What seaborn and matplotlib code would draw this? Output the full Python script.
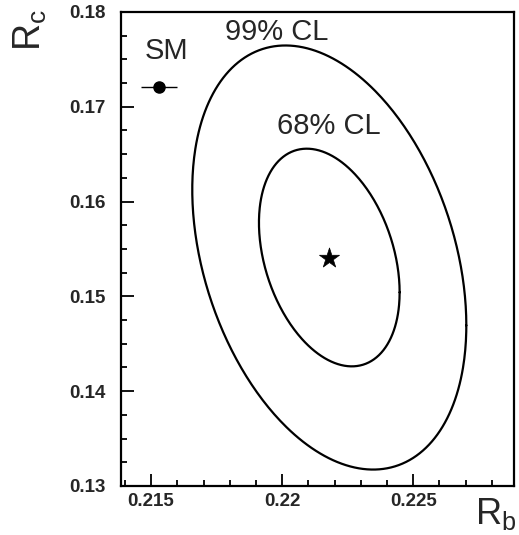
import numpy as np
import pandas as pd
import seaborn as sns
import matplotlib.pyplot as plt
from matplotlib.ticker import MultipleLocator

# Fit result in the (Rb, Rc) plane
fit_rb = 0.2218
fit_rc = 0.1541
sigma_rb = 0.00177
sigma_rc = 0.00757
rho = -0.32
cl_labels = ["68% CL", "99% CL"]
cl_delta_chi2 = [2.30, 8.73]

# Standard Model prediction
sm_rb = 0.2153
sm_rc = 0.1721
sm_rb_err = 0.0007

x_ticks = [0.215, 0.22, 0.225]
x_tick_labels = ["0.215", "0.22", "0.225"]
y_ticks = [0.13, 0.14, 0.15, 0.16, 0.17, 0.18]
y_tick_labels = ["0.13", "0.14", "0.15", "0.16", "0.17", "0.18"]

sns.set_theme(style="white")
plt.rcParams["font.family"] = ["Liberation Sans", "DejaVu Sans"]

fig = plt.figure(figsize=(5.19, 5.35), dpi=100)
ax = fig.add_axes([0.2331, 0.0916, 0.9904 - 0.2331, 0.9776 - 0.0916])

# Confidence-level contours of the 2D Gaussian fit
t = np.linspace(0, 2 * np.pi, 400)
frames = []
for label, d2 in zip(cl_labels, cl_delta_chi2):
    k = np.sqrt(d2)
    frames.append(pd.DataFrame({
        "Rb": fit_rb + k * sigma_rb * np.cos(t),
        "Rc": fit_rc + k * sigma_rc * (rho * np.cos(t) + np.sqrt(1 - rho**2) * np.sin(t)),
        "cl": label,
    }))
contours = pd.concat(frames, ignore_index=True)
sns.lineplot(data=contours, x="Rb", y="Rc", units="cl", estimator=None, sort=False,
             color="black", linewidth=1.6, ax=ax, legend=False)

# Best fit (star) and SM point with its error bar
sns.scatterplot(x=[fit_rb], y=[fit_rc], marker="*", s=230, color="black",
                edgecolor="black", linewidth=0.5, ax=ax, legend=False)
ax.errorbar([sm_rb], [sm_rc], xerr=[sm_rb_err], fmt="o", color="black",
            markersize=8, elinewidth=1.0, capsize=0)

ax.text(0.2198, 0.1779, "99% CL", fontsize=21, ha="center", va="center")
ax.text(0.2218, 0.1680, "68% CL", fontsize=21, ha="center", va="center")
ax.text(0.21558, 0.1759, "SM", fontsize=21, ha="center", va="center")

ax.set_xlim(0.21385, 0.22885)
ax.set_ylim(0.13, 0.18)
ax.set_xticks(x_ticks)
ax.set_xticklabels(x_tick_labels, fontweight="bold", fontsize=13.5)
ax.set_yticks(y_ticks)
ax.set_yticklabels(y_tick_labels, fontweight="bold", fontsize=13.5)
ax.xaxis.set_minor_locator(MultipleLocator(0.001))
ax.yaxis.set_minor_locator(MultipleLocator(0.0025))
ax.tick_params(which="both", direction="in", top=False, right=False,
               bottom=True, left=True, color="black", width=1.3)
ax.tick_params(which="major", length=9)
ax.tick_params(which="minor", length=4.5)
ax.tick_params(axis="x", which="major", pad=5)
ax.tick_params(axis="y", which="major", pad=11)
ax.set_xlabel("")
ax.set_ylabel("")
for spine in ax.spines.values():
    spine.set_color("black")
    spine.set_linewidth(1.6)

fig.text(30 / 519, 1 - 30 / 535, r"R$_\mathregular{c}$", fontsize=27, rotation=90,
         ha="center", va="center")
fig.text(496 / 519, 1 - 514 / 535, r"R$_\mathregular{b}$", fontsize=26,
         ha="center", va="center")

fig.savefig("out.png", dpi=100, facecolor="white")
